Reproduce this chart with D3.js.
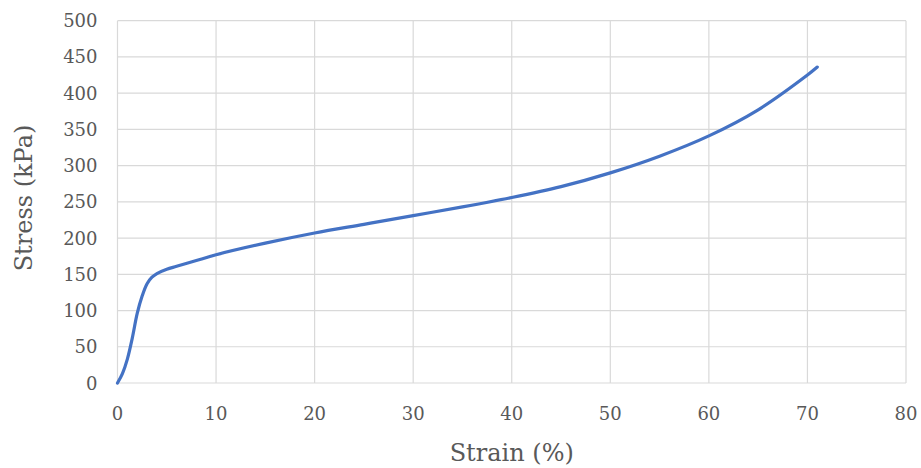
<!DOCTYPE html>
<html>
<head>
<meta charset="utf-8">
<script src="https://cdn.jsdelivr.net/npm/d3@7"></script>
<style>
  body { margin: 0; background: #fff; }
  text { font-family: "DejaVu Serif", serif; fill: #595959; }
</style>
</head>
<body>
<svg id="chart" width="921" height="468"></svg>
<script>
// Data
const strain = [0, 0.5, 1, 1.5, 2, 2.5, 3, 3.5, 4, 5, 6, 8, 10, 15, 20, 25, 30, 35, 40, 45, 50, 55, 60, 65, 70, 71];
const stress = [0, 13, 33, 62, 96, 120, 137, 146, 151, 157, 161, 169, 177, 193, 207, 219, 231, 243, 256, 271, 290, 313, 341, 377, 425, 436];
const xTicks = [0, 10, 20, 30, 40, 50, 60, 70, 80];
const yTicks = [0, 50, 100, 150, 200, 250, 300, 350, 400, 450, 500];

// Plot area
let plot_left = 117.5, plot_right = 906, plot_top = 20.7, plot_bottom = 383;

let svg = d3.select("#chart");

let x = d3.scaleLinear().domain([0, 80]).range([plot_left, plot_right]);
let y = d3.scaleLinear().domain([0, 500]).range([plot_bottom, plot_top]);

// Grid
svg.append("g")
  .selectAll("line")
  .data(yTicks)
  .join("line")
  .attr("x1", plot_left).attr("x2", plot_right)
  .attr("y1", d => y(d)).attr("y2", d => y(d))
  .attr("stroke", "#d9d9d9").attr("stroke-width", 1.2);

svg.append("g")
  .selectAll("line")
  .data(xTicks)
  .join("line")
  .attr("x1", d => x(d)).attr("x2", d => x(d))
  .attr("y1", plot_top).attr("y2", plot_bottom)
  .attr("stroke", "#d9d9d9").attr("stroke-width", 1.2);

// Tick labels
svg.append("g")
  .selectAll("text")
  .data(yTicks)
  .join("text")
  .attr("x", plot_left - 20)
  .attr("y", d => y(d) + 6.5)
  .attr("text-anchor", "end")
  .attr("font-size", 18)
  .text(d => d);

svg.append("g")
  .selectAll("text")
  .data(xTicks)
  .join("text")
  .attr("x", d => x(d))
  .attr("y", 420)
  .attr("text-anchor", "middle")
  .attr("font-size", 18)
  .text(d => d);

// Axis titles
svg.append("text")
  .attr("x", (plot_left + plot_right) / 2)
  .attr("y", 461)
  .attr("text-anchor", "middle")
  .attr("font-size", 24)
  .text("Strain (%)");

svg.append("text")
  .attr("transform", `translate(32,198) rotate(-90)`)
  .attr("text-anchor", "middle")
  .attr("font-size", 24)
  .text("Stress (kPa)");

// Curve
let line = d3.line()
  .x(i => x(strain[i]))
  .y(i => y(stress[i]))
  .curve(d3.curveCatmullRom.alpha(0.5));

svg.append("path")
  .attr("d", line(d3.range(strain.length)))
  .attr("fill", "none")
  .attr("stroke", "#4472c4")
  .attr("stroke-width", 3.2)
  .attr("stroke-linecap", "round");
</script>
</body>
</html>
